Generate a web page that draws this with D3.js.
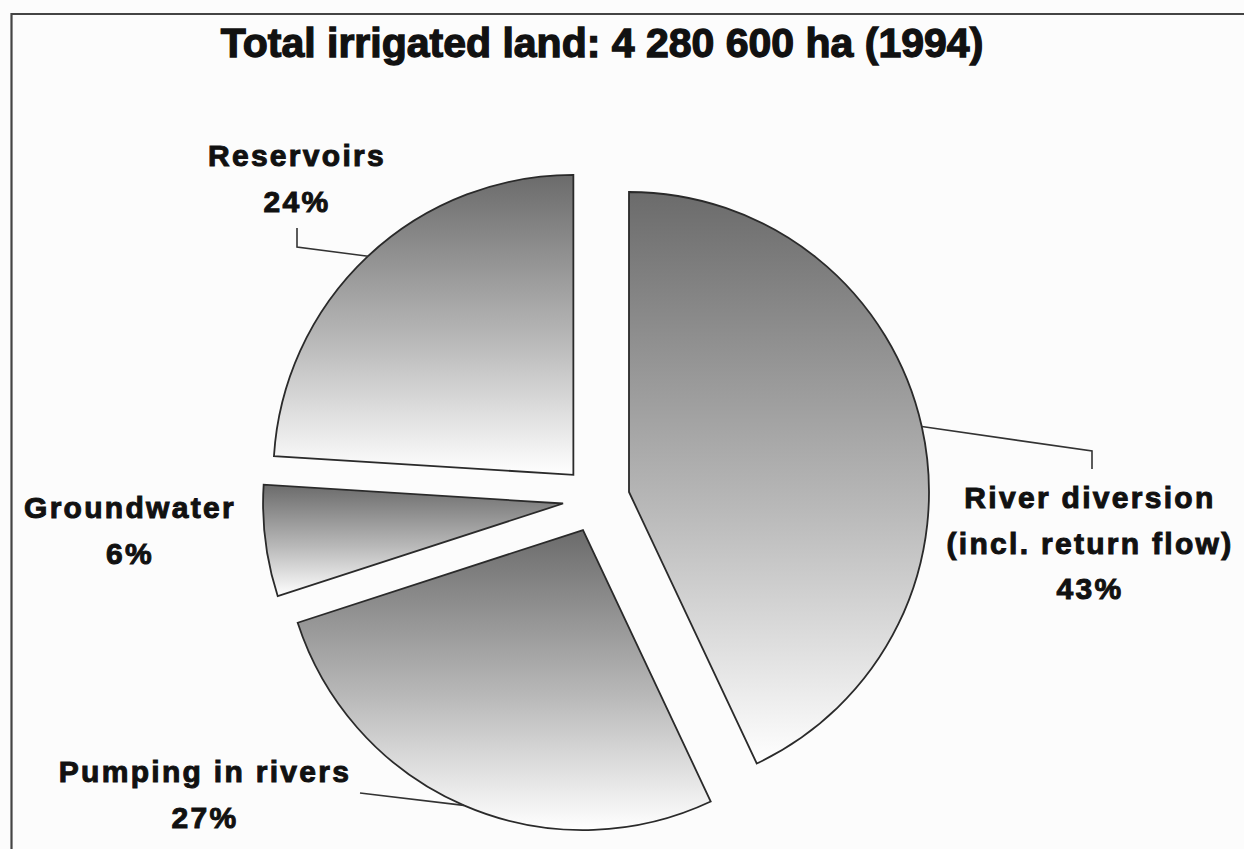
<!DOCTYPE html>
<html>
<head>
<meta charset="utf-8">
<script src="https://cdn.jsdelivr.net/npm/d3@7"></script>
<style>
  html, body { margin: 0; padding: 0; background: #fcfcfc; }
  svg { display: block; }
  text { font-family: "Liberation Sans", Arial, sans-serif; font-weight: bold; fill: #111; }
</style>
</head>
<body>
<svg id="chart" width="1244" height="849"></svg>
<script>
// ---- data ----
const title = "Total irrigated land: 4 280 600 ha (1994)";
const categories = ["River diversion", "Pumping in rivers", "Groundwater", "Reservoirs"];
const labelLines = [
  ["River diversion", "(incl. return flow)", "43%"],
  ["Pumping in rivers", "27%"],
  ["Groundwater", "6%"],
  ["Reservoirs", "24%"]
];
const shares = [43, 27, 6, 24];

// ---- layout ----
const W = 1244, H = 849;
const cx = 596.3, cy = 499.3, R = 300, explode = 33.5;
// label anchor (center x, first baseline y) and leader elbow points
const labelPos = [
  { x: 1090, y: 508, leader: [[1092, 451], [1092, 469]] },
  { x: 205,  y: 782, leader: [[360, 793]] },
  { x: 130,  y: 518, leader: null },
  { x: 297,  y: 166, leader: [[297, 247], [297, 228]] }
];
const lineGap = 45.5;

const svg = d3.select("#chart");
svg.append("rect").attr("width", W).attr("height", H).attr("fill", "#fcfcfc");

// frame (top and left edges visible)
svg.append("path")
  .attr("d", `M11.5,${H} L11.5,14 L${W},14`)
  .attr("fill", "none").attr("stroke", "#444").attr("stroke-width", 2.2);

const defs = svg.append("defs");
const grad = defs.append("linearGradient").attr("id", "g")
  .attr("x1", 0).attr("y1", 0).attr("x2", 0).attr("y2", 1);
grad.append("stop").attr("offset", "0%").attr("stop-color", "#6b6b6b");
grad.append("stop").attr("offset", "55%").attr("stop-color", "#b8b8b8");
grad.append("stop").attr("offset", "100%").attr("stop-color", "#ffffff");

const pie = d3.pie().sort(null).value(d => d)(shares);
const arc = d3.arc().innerRadius(0).outerRadius(R);

const g = svg.append("g").attr("transform", `translate(${cx},${cy})`);

pie.forEach((p, i) => {
  const mid = (p.startAngle + p.endAngle) / 2;
  const ox = Math.sin(mid) * explode, oy = -Math.cos(mid) * explode;
  g.append("path")
    .attr("d", arc(p))
    .attr("transform", `translate(${ox},${oy})`)
    .attr("fill", "url(#g)")
    .attr("stroke", "#2a2a2a")
    .attr("stroke-width", 1.8)
    .attr("stroke-linejoin", "miter");

  const lp = labelPos[i];
  if (lp.leader) {
    const ax = cx + ox + Math.sin(mid) * R;
    const ay = cy + oy - Math.cos(mid) * R;
    const pts = [[ax, ay]].concat(lp.leader);
    svg.append("path")
      .attr("d", d3.line()(pts))
      .attr("fill", "none").attr("stroke", "#333").attr("stroke-width", 1.6);
  }

  labelLines[i].forEach((t, k) => {
    svg.append("text")
      .attr("x", lp.x).attr("y", lp.y + k * lineGap)
      .attr("text-anchor", "middle")
      .attr("font-size", 30)
      .attr("letter-spacing", 2.3)
      .attr("stroke", "#111").attr("stroke-width", 1.0)
      .text(t);
  });
});

svg.append("text")
  .attr("x", 602).attr("y", 57)
  .attr("text-anchor", "middle")
  .attr("font-size", 41)
  .attr("stroke", "#111").attr("stroke-width", 1.3)
  .text(title);
</script>
</body>
</html>
